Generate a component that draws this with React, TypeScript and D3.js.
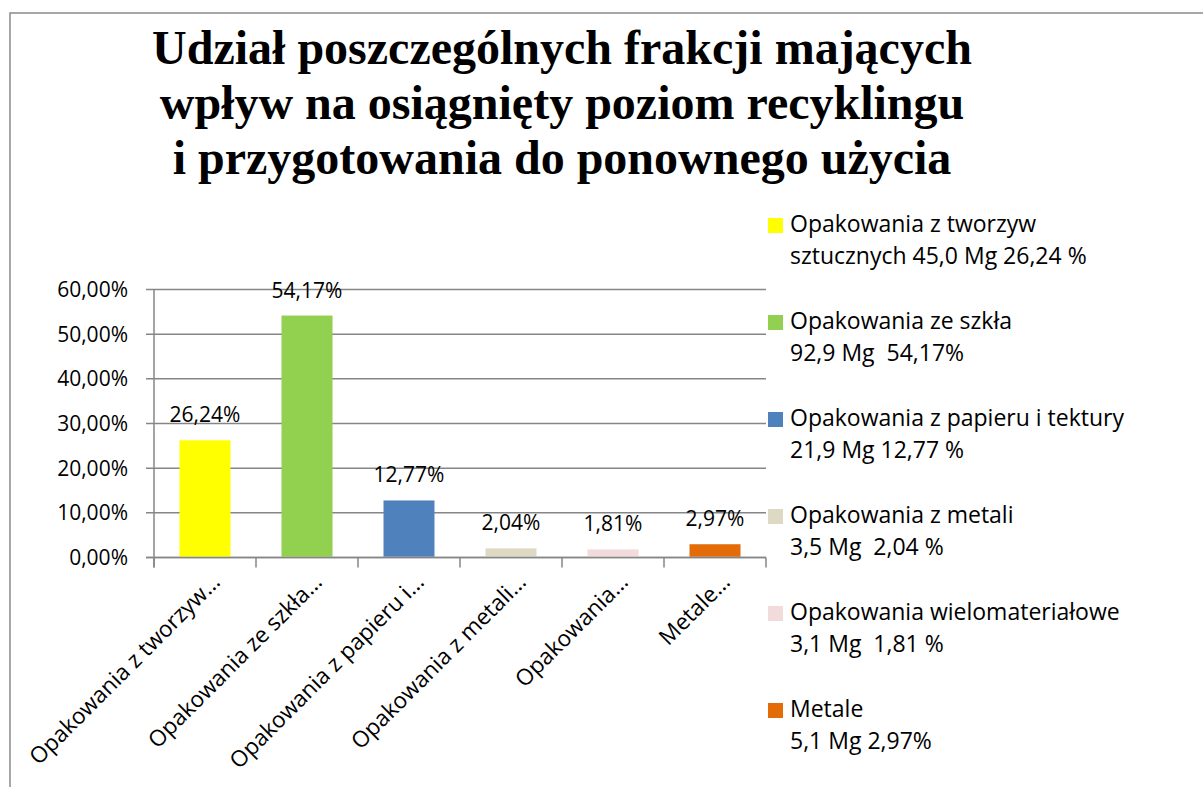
import React from "react";
import * as d3 from "d3";

const categories = [
  "Opakowania z tworzyw…",
  "Opakowania ze szkła…",
  "Opakowania z papieru i…",
  "Opakowania z metali…",
  "Opakowania…",
  "Metale…",
];
const values = [26.24, 54.17, 12.77, 2.04, 1.81, 2.97];
const valueLabels = ["26,24%", "54,17%", "12,77%", "2,04%", "1,81%", "2,97%"];
const colors = ["#FFFF00", "#92D050", "#4F81BD", "#DDD9C3", "#F2DCDB", "#E36C09"];
const legendLines = [
  ["Opakowania z tworzyw", "sztucznych 45,0 Mg 26,24 %"],
  ["Opakowania ze szkła", "92,9 Mg  54,17%"],
  ["Opakowania z papieru i tektury", "21,9 Mg 12,77 %"],
  ["Opakowania z metali", "3,5 Mg  2,04 %"],
  ["Opakowania wielomateriałowe", "3,1 Mg  1,81 %"],
  ["Metale", "5,1 Mg 2,97%"],
];
const yTicks = [0, 10, 20, 30, 40, 50, 60];
const yTickLabels = ["0,00%", "10,00%", "20,00%", "30,00%", "40,00%", "50,00%", "60,00%"];
const titleLines = [
  "Udział poszczególnych frakcji mających",
  "wpływ na osiągnięty poziom recyklingu",
  "i przygotowania do ponownego użycia",
];

const W = 1203;
const H = 787;
const plot = { left: 154, right: 766, top: 289.5, bottom: 557.5 };
const font = "'Open Sans', Lato, sans-serif";
const fsNum = 21;
const fsCat = 22.5;
const fsLeg = 23;
const grid = "#868686";

export default function App() {
  const x = d3
    .scaleBand<number>()
    .domain(d3.range(categories.length))
    .range([plot.left, plot.right])
    .paddingInner(0.5)
    .paddingOuter(0.25);
  const bandStep = (plot.right - plot.left) / categories.length;
  const y = d3.scaleLinear().domain([0, 60]).range([plot.bottom, plot.top]);

  return (
    <svg
      width={W}
      height={H}
      style={{ position: "absolute", left: 0, top: 0, background: "#fff" }}
    >
      <rect x={10} y={13} width={1210} height={800} fill="#fff" stroke="#8a8a8a" strokeWidth={1.5} />
      {titleLines.map((t, i) => (
        <text
          key={i}
          x={562}
          y={64 + i * 55}
          textAnchor="middle"
          fontFamily="'Liberation Serif', 'Times New Roman', serif"
          fontWeight="bold"
          fontSize={48}
          fill="#000"
        >
          {t}
        </text>
      ))}
      {yTicks.map((t, i) => (
        <g key={i}>
          <line x1={plot.left - 8} x2={plot.right} y1={y(t)} y2={y(t)} stroke={grid} strokeWidth={1.5} />
          <text
            x={128}
            y={y(t)}
            dy="0.36em"
            textAnchor="end"
            fontFamily={font}
            fontSize={fsNum}
            fill="#000"
          >
            {yTickLabels[i]}
          </text>
        </g>
      ))}
      <line x1={plot.left} x2={plot.left} y1={plot.top} y2={plot.bottom + 10} stroke={grid} strokeWidth={1.5} />
      {d3.range(categories.length + 1).map((i) => (
        <line
          key={i}
          x1={plot.left + i * bandStep}
          x2={plot.left + i * bandStep}
          y1={plot.bottom}
          y2={plot.bottom + 10}
          stroke={grid}
          strokeWidth={1.5}
        />
      ))}
      {values.map((v, i) => (
        <rect
          key={i}
          x={x(i)!}
          y={y(v)}
          width={x.bandwidth()}
          height={plot.bottom - 0.75 - y(v)}
          fill={colors[i]}
        />
      ))}
      <line x1={plot.left - 8} x2={plot.right} y1={plot.bottom} y2={plot.bottom} stroke={grid} strokeWidth={1.5} />
      {values.map((v, i) => (
        <text
          key={i}
          x={x(i)! + x.bandwidth() / 2}
          y={y(v) - 18}
          textAnchor="middle"
          fontFamily={font}
          fontSize={fsNum}
          fill="#000"
        >
          {valueLabels[i]}
        </text>
      ))}
      {categories.map((c, i) => {
        const cx = x(i)! + x.bandwidth() / 2;
        return (
          <text
            key={i}
            transform={`translate(${cx + 5},${572}) rotate(-45)`}
            dy="0.72em"
            textAnchor="end"
            fontFamily={font}
            fontSize={fsCat}
            fill="#000"
          >
            {c}
          </text>
        );
      })}
      {legendLines.map((lines, i) => {
        const base = 232 + i * 97;
        return (
          <g key={i}>
            <rect x={768} y={base - 14} width={15} height={15} fill={colors[i]} />
            {lines.map((l, j) => (
              <text key={j} x={790} y={base + j * 32} fontFamily={font} fontSize={fsLeg} fill="#000" style={{ whiteSpace: "pre" }}>
                {l}
              </text>
            ))}
          </g>
        );
      })}
    </svg>
  );
}
